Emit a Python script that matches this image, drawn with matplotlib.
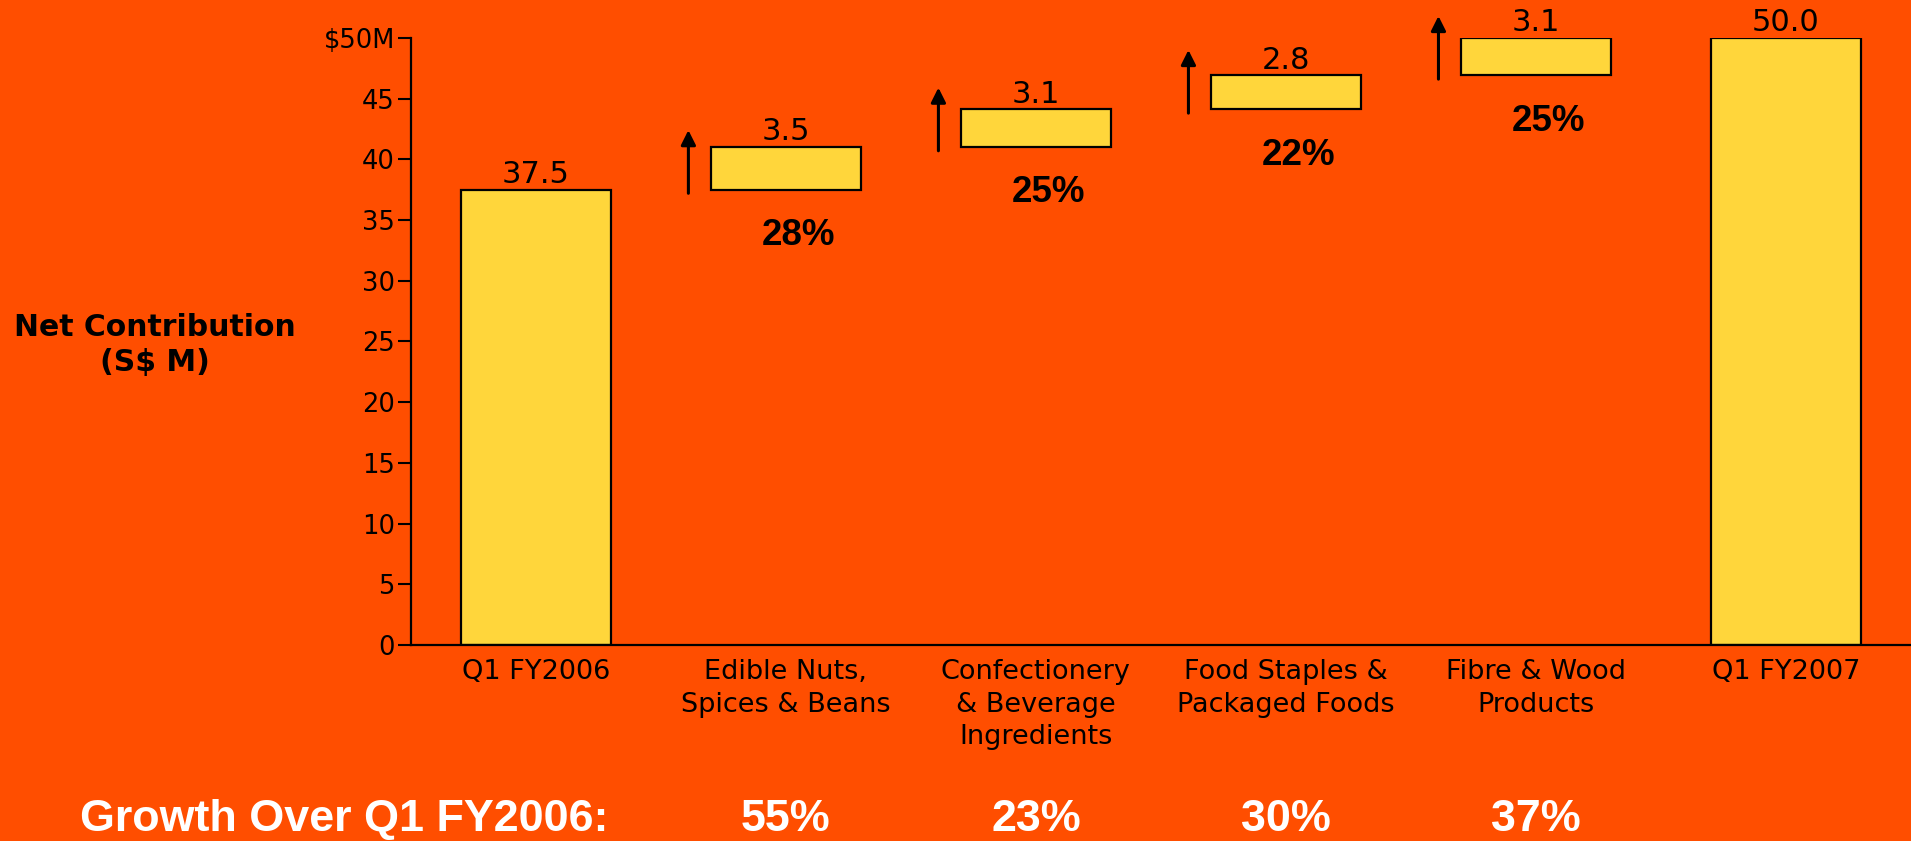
import numpy as np
import matplotlib.pyplot as plt
from matplotlib.transforms import blended_transform_factory

# Net contribution bridge, Q1 FY2006 -> Q1 FY2007 (S$ M)
categories = ['Q1 FY2006', 'Edible Nuts,\nSpices & Beans',
              'Confectionery\n& Beverage\nIngredients',
              'Food Staples &\nPackaged Foods', 'Fibre & Wood\nProducts',
              'Q1 FY2007']
start_total = 37.5
steps = [3.5, 3.1, 2.8, 3.1]
end_total = 50.0
step_share = ['28%', '25%', '22%', '25%']
growth = ['55%', '23%', '30%', '37%']
y_ticks = [0, 5, 10, 15, 20, 25, 30, 35, 40, 45, 50]
y_tick_labels = ['0', '5', '10', '15', '20', '25', '30', '35', '40', '45', '$50M']

BG = '#FF4E00'
BAR = '#FFD63B'

heights = [start_total] + steps + [end_total]
bottoms = [0] + list(start_total + np.cumsum([0] + steps[:-1])) + [0]
labels = ['%.1f' % h for h in heights]
x = np.arange(len(categories))

fig = plt.figure(figsize=(19.11, 8.41), dpi=100, facecolor=BG)
ax = fig.add_axes([0.215, 0.233, 0.785, 0.722])
ax.set_facecolor(BG)

ax.bar(x, heights, bottom=bottoms, width=0.6, color=BAR,
       edgecolor='black', linewidth=1.6)

for xi, h, b, lab in zip(x, heights, bottoms, labels):
    ax.annotate(lab, (xi, b + h), xytext=(0, 5), textcoords='offset points',
                ha='center', va='baseline', fontsize=22,
                family='DejaVu Sans', annotation_clip=False)

# arrows and share-of-growth labels next to the floating bars
for i, (b, share) in enumerate(zip(bottoms[1:5], step_share)):
    xi = x[i + 1]
    ax.annotate('', xy=(xi - 0.39, b + 4.9), xytext=(xi - 0.39, b - 0.3),
                arrowprops=dict(arrowstyle='-|>', color='black', lw=2.2,
                                mutation_scale=22, shrinkA=0, shrinkB=0),
                annotation_clip=False)
    ax.text(xi + 0.05, b - 3.75, share, ha='center', va='center',
            fontsize=26.5, fontweight='bold', family='Liberation Sans')

ax.set_xlim(-0.5, 5.5)
ax.set_ylim(0, 50)
ax.set_yticks(y_ticks)
ax.set_yticklabels(y_tick_labels, fontsize=18.5, family='DejaVu Sans')
ax.set_xticks(x)
ax.set_xticklabels(categories, fontsize=19.5, family='DejaVu Sans',
                   linespacing=1.33)
ax.tick_params(axis='y', length=9.5, width=1.5, pad=2)
ax.tick_params(axis='x', length=0, pad=10)

for side in ['top', 'right']:
    ax.spines[side].set_visible(False)
ax.spines['left'].set_linewidth(1.6)
ax.spines['bottom'].set_linewidth(1.6)

fig.text(155 / 1911, 1 - 345 / 841, 'Net Contribution\n(S$ M)',
         ha='center', va='center', fontsize=21.5, fontweight='bold',
         family='DejaVu Sans', linespacing=1.3)

# growth row along the bottom of the figure
row = blended_transform_factory(ax.transData, fig.transFigure)
fig.text(80 / 1911, 0.012, 'Growth Over Q1 FY2006:', ha='left',
         va='baseline', fontsize=32.3, fontweight='bold', color='white',
         family='Liberation Sans')
for xi, g in zip(x[1:5], growth):
    ax.text(xi, 0.012, g, transform=row, ha='center', va='baseline',
            fontsize=32.3, fontweight='bold', color='white',
            family='Liberation Sans')

fig.savefig('out.png', dpi=100, facecolor=BG)
